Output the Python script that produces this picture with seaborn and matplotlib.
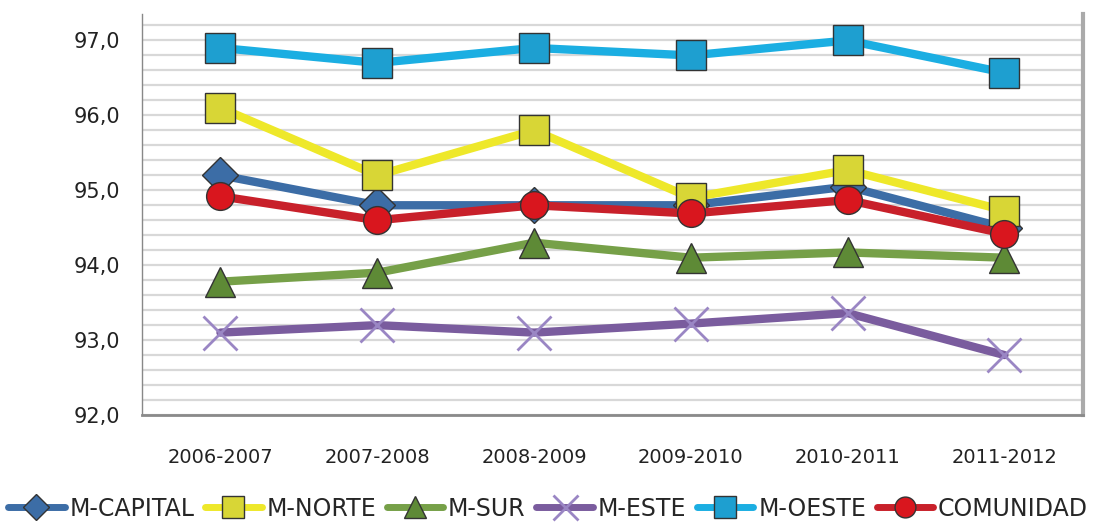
import matplotlib
matplotlib.use("Agg")
import matplotlib.pyplot as plt
import seaborn as sns
import pandas as pd
from matplotlib.ticker import FuncFormatter, MultipleLocator

cursos = ["2006-2007", "2007-2008", "2008-2009", "2009-2010", "2010-2011", "2011-2012"]
m_capital = [95.2, 94.8, 94.8, 94.8, 95.05, 94.5]
m_norte = [96.1, 95.2, 95.8, 94.9, 95.27, 94.73]
m_sur = [93.78, 93.9, 94.3, 94.1, 94.17, 94.1]
m_este = [93.1, 93.2, 93.1, 93.22, 93.36, 92.8]
m_oeste = [96.9, 96.7, 96.9, 96.8, 97.0, 96.57]
comunidad = [94.92, 94.6, 94.8, 94.69, 94.87, 94.42]

series_names = ["M-CAPITAL", "M-NORTE", "M-SUR", "M-ESTE", "M-OESTE", "COMUNIDAD"]
series_vals = [m_capital, m_norte, m_sur, m_este, m_oeste, comunidad]

colors = ["#3C6DA6", "#EEE82A", "#76A048", "#7A5C9E", "#1BAEE2", "#C8202A"]
markers = ["D", "s", "^", "x", "s", "o"]
msizes = [18, 21, 21, 24, 22, 20]
mfc = ["#3C6DA6", "#D8D636", "#5E8A36", "#9A86C4", "#1E9FD0", "#D9161E"]

sns.set_theme(style="white")
plt.rcParams['font.family'] = ['DejaVu Sans']

fig = plt.figure(figsize=(10.96, 5.27), dpi=100)
ax = fig.add_axes([0.1296, 0.2125, 0.988 - 0.1296, 0.973 - 0.2125])

rows = []
for name, vals in zip(series_names, series_vals):
    for c, v in zip(cursos, vals):
        rows.append({"curso": c, "serie": name, "valor": v})
df = pd.DataFrame(rows)
df["x"] = df["curso"].map({c: i for i, c in enumerate(cursos)})

handles = []
for i, name in enumerate(series_names):
    sub = df[df["serie"] == name]
    mew = 2.0 if markers[i] == "x" else 1.0
    mec = mfc[i] if markers[i] == "x" else "#333333"
    sns.lineplot(data=sub, x="x", y="valor", ax=ax, color=colors[i], linewidth=6,
                 marker=markers[i], markersize=msizes[i], markerfacecolor=mfc[i],
                 markeredgecolor=mec, markeredgewidth=mew, zorder=3 + i, legend=False)
    h, = ax.plot([], [], color=colors[i], linewidth=5, marker=markers[i],
                 markersize=msizes[i] * 0.75, markerfacecolor=mfc[i],
                 markeredgecolor=mec, markeredgewidth=mew)
    handles.append(h)

ax.set_xlim(-0.5, 5.5)
ax.set_ylim(92.0, 97.35)
ax.set_xticks(range(len(cursos)))
ax.set_xticklabels(cursos, fontsize=14, color="#222222")
ax.yaxis.set_major_locator(MultipleLocator(1.0))
ax.yaxis.set_minor_locator(MultipleLocator(0.2))
ax.yaxis.set_major_formatter(FuncFormatter(lambda v, p: f"{v:.1f}".replace(".", ",")))
ax.tick_params(axis="y", labelsize=15, pad=16, colors="#222222", length=0)
ax.tick_params(axis="x", pad=24, length=0)
ax.grid(True, which="both", axis="y", color="#D8D8D8", linewidth=1.6)
ax.set_axisbelow(True)
ax.set_xlabel("")
ax.set_ylabel("")
ax.spines["top"].set_visible(False)
ax.spines["left"].set_color("#888888")
ax.spines["left"].set_linewidth(1.0)
ax.spines["bottom"].set_color("#8A8A8A")
ax.spines["bottom"].set_linewidth(2.0)
ax.spines["right"].set_color("#AAAAAA")
ax.spines["right"].set_linewidth(3.0)

fig.legend(handles, series_names, loc="lower center", bbox_to_anchor=(0.5, -0.015),
           ncol=6, frameon=False, fontsize=17, handlelength=2.4, handletextpad=0.2,
           columnspacing=0.45, borderaxespad=0.2)

fig.savefig("out.png", dpi=100)
